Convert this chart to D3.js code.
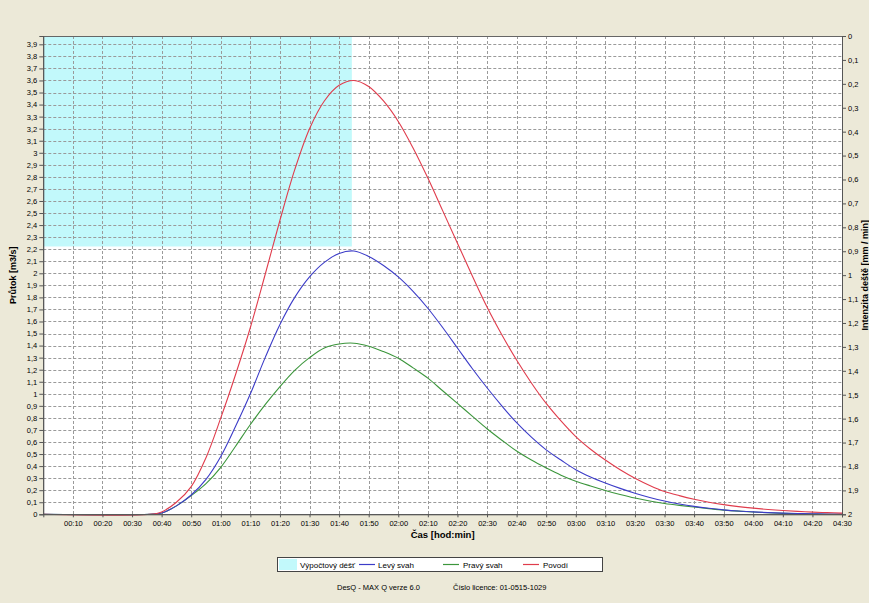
<!DOCTYPE html>
<html><head><meta charset="utf-8">
<script src="https://cdn.jsdelivr.net/npm/d3@7"></script>
<style>
html,body{margin:0;padding:0;background:#ece9d8;}
svg{display:block;}
text{font-family:"Liberation Sans",Arial,sans-serif;fill:#000;}
</style></head>
<body>
<svg id="chart" width="869" height="603"></svg>
<script>
// ---- data ----
const times = [0,36,40,45,50,55,60,65,70,75,80,85,90,95,100,105,110,115,120,125,130,135,140,145,150,155,160,165,170,175,180,185,190,195,200,205,210,215,220,225,230,235,240,245,250,255,260,265,270];
const povodi = [0,0,0.02,0.10,0.23,0.47,0.80,1.16,1.55,1.99,2.44,2.86,3.20,3.43,3.56,3.60,3.55,3.43,3.26,3.04,2.79,2.52,2.25,1.98,1.72,1.49,1.28,1.09,0.92,0.775,0.645,0.54,0.45,0.37,0.30,0.24,0.19,0.155,0.125,0.10,0.08,0.064,0.051,0.04,0.031,0.024,0.018,0.014,0.01];
const levySvah = [0,0,0.01,0.07,0.16,0.29,0.48,0.73,1.00,1.30,1.575,1.80,1.97,2.09,2.165,2.185,2.14,2.065,1.97,1.85,1.71,1.55,1.38,1.21,1.05,0.90,0.76,0.64,0.535,0.45,0.37,0.31,0.26,0.215,0.175,0.14,0.11,0.086,0.066,0.05,0.037,0.027,0.02,0.014,0.01,0.007,0.005,0.003,0.002];
const pravySvah = [0,0,0.01,0.07,0.155,0.255,0.39,0.565,0.745,0.91,1.06,1.195,1.30,1.38,1.413,1.42,1.395,1.35,1.295,1.215,1.13,1.025,0.92,0.815,0.71,0.615,0.525,0.45,0.385,0.325,0.275,0.235,0.198,0.165,0.135,0.11,0.09,0.074,0.06,0.047,0.035,0.026,0.019,0.013,0.008,0.005,0.003,0.001,0];
const rainStart = 0, rainEnd = 104.3, rainIntensity = 0.88;
const xTickValues = [10,20,30,40,50,60,70,80,90,100,110,120,130,140,150,160,170,180,190,200,210,220,230,240,250,260,270];
const xTickLabels = ["00:10","00:20","00:30","00:40","00:50","01:00","01:10","01:20","01:30","01:40","01:50","02:00","02:10","02:20","02:30","02:40","02:50","03:00","03:10","03:20","03:30","03:40","03:50","04:00","04:10","04:20","04:30"];
const leftTicks = d3.range(0,40).map(i=>i/10);
const rightTicks = d3.range(0,21).map(i=>i/10);
const seriesNames = ["Výpočtový déšť","Levý svah","Pravý svah","Povodí"];
const seriesColors = ["#c2f9fb","#3c3cc8","#3c963c","#e03c4c"];

// ---- layout ----
const L=43.3, R=842, T=36, B=514.3;
const svg = d3.select("#chart");
const x = d3.scaleLinear().domain([0,270]).range([L,R]);
const yL = d3.scaleLinear().domain([0,3.969]).range([B,T]);
const yR = d3.scaleLinear().domain([0,2]).range([T,B]);
const fmt = v => d3.format(".1~f")(v).replace(".",",");

svg.append("rect").attr("x",L).attr("y",T).attr("width",R-L).attr("height",B-T).attr("fill","#fff");

// rain block
svg.append("rect").attr("x",x(rainStart)).attr("y",yR(0)).attr("width",x(rainEnd)-x(rainStart))
  .attr("height",yR(rainIntensity)-yR(0)).attr("fill",seriesColors[0]);

// grid
const grid = svg.append("g").attr("stroke","#9a9a9a").attr("stroke-dasharray","3,2").attr("stroke-width",1);
grid.selectAll("line.h").data(leftTicks.slice(1)).join("line")
  .attr("x1",L).attr("x2",R).attr("y1",d=>Math.round(yL(d))+0.5).attr("y2",d=>Math.round(yL(d))+0.5);
grid.selectAll("line.v").data(xTickValues.slice(0,-1)).join("line")
  .attr("y1",T).attr("y2",B).attr("x1",d=>Math.round(x(d))+0.5).attr("x2",d=>Math.round(x(d))+0.5);

// lines
const line = yv => d3.line().x((d,i)=>x(times[i])).y(d=>yL(Math.max(0,d))).curve(d3.curveCatmullRom.alpha(0.5))(yv);
[[pravySvah,seriesColors[2]],[levySvah,seriesColors[1]],[povodi,seriesColors[3]]].forEach(([s,c])=>{
  svg.append("path").attr("d",line(s)).attr("fill","none").attr("stroke",c).attr("stroke-width",1.1);
});

// border
svg.append("rect").attr("x",Math.round(L)+0.5).attr("y",T+0.5).attr("width",Math.round(R-L)).attr("height",Math.round(B-T))
  .attr("fill","none").attr("stroke","#666");

// axes
const axL = d3.axisLeft(yL).tickValues(leftTicks).tickFormat(fmt).tickSize(4).tickPadding(2);
const axR = d3.axisRight(yR).tickValues(rightTicks).tickFormat(fmt).tickSize(4).tickPadding(2);
const axB = d3.axisBottom(x).tickValues(xTickValues).tickFormat((d,i)=>xTickLabels[i]).tickSize(3).tickPadding(3);
function style(g){
  g.select(".domain").attr("stroke","#555");
  g.selectAll(".tick line").attr("stroke","#555");
  g.selectAll("text").attr("font-size","7.5px").attr("font-family","'Liberation Sans',Arial,sans-serif").attr("fill","#222");
}
svg.append("g").attr("transform",`translate(${L},0)`).call(axL).call(style);
svg.append("g").attr("transform",`translate(${R},0)`).call(axR).call(style);
svg.append("g").attr("transform",`translate(0,${B})`).call(axB).call(style);

// titles
svg.append("text").attr("transform",`translate(16,${(T+B)/2}) rotate(-90)`).attr("text-anchor","middle")
  .attr("font-size","9px").attr("font-weight","bold").text("Průtok [m3/s]");
svg.append("text").attr("transform",`translate(867.5,${(T+B)/2}) rotate(-90)`).attr("text-anchor","middle")
  .attr("font-size","9px").attr("font-weight","bold").text("Intenzita deště [mm / min]");
svg.append("text").attr("x",(L+R)/2).attr("y",538).attr("text-anchor","middle")
  .attr("font-size","9.5px").attr("font-weight","bold").text("Čas [hod:min]");

// legend
const lg = svg.append("g");
lg.append("rect").attr("x",277.5).attr("y",557.5).attr("width",325).attr("height",14).attr("fill","#fff").attr("stroke","#444");
lg.append("rect").attr("x",279).attr("y",559).attr("width",18).attr("height",11).attr("fill",seriesColors[0]);
const legItems = [
  {name:seriesNames[0], sx:null, tx:300},
  {name:seriesNames[1], sx:359, tx:378},
  {name:seriesNames[2], sx:443, tx:463},
  {name:seriesNames[3], sx:523, tx:543}
];
legItems.forEach((it,i)=>{
  if(it.sx!==null) lg.append("line").attr("x1",it.sx).attr("x2",it.sx+16).attr("y1",564.5).attr("y2",564.5).attr("stroke",seriesColors[i]).attr("stroke-width",1.2);
  lg.append("text").attr("x",it.tx).attr("y",567.5).attr("font-size","8px").text(it.name);
});

// footer
svg.append("text").attr("x",337).attr("y",590).attr("font-size","7.5px").text("DesQ - MAX Q verze 6.0");
svg.append("text").attr("x",453).attr("y",590).attr("font-size","7.5px").text("Číslo licence: 01-0515-1029");
</script>
</body></html>
